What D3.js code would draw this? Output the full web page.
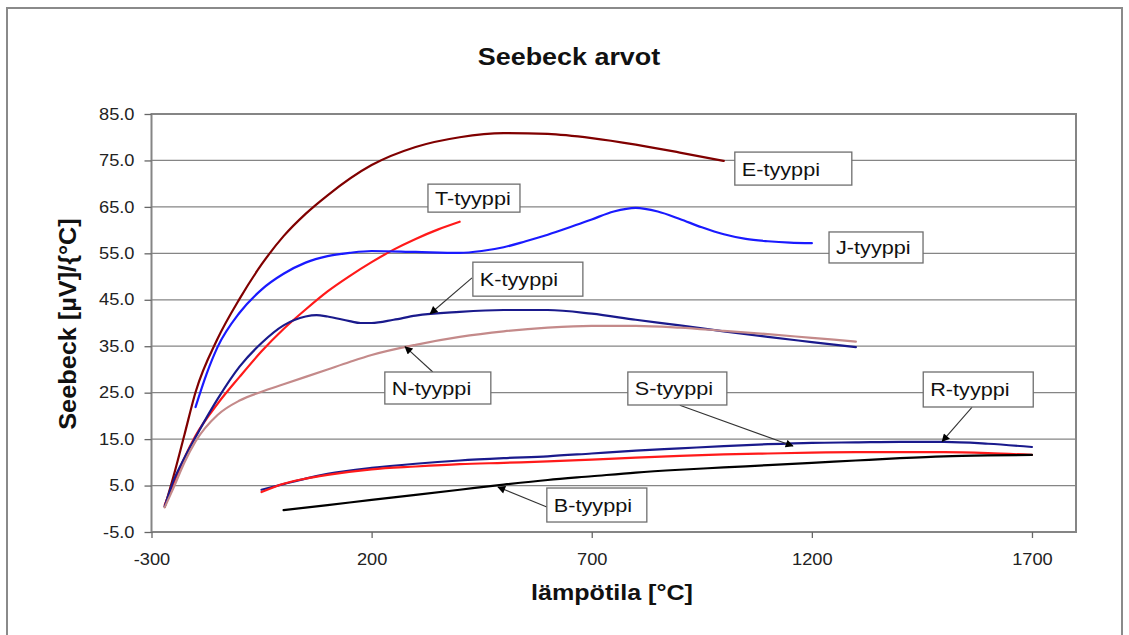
<!DOCTYPE html>
<html>
<head>
<meta charset="utf-8">
<script src="https://cdn.jsdelivr.net/npm/d3@7"></script>
<style>
  html, body { margin: 0; padding: 0; background: #fff; }
  svg { display: block; font-family: "Liberation Sans", Arial, sans-serif; }
</style>
</head>
<body>
<svg id="chart" width="1129" height="635"></svg>
<script>
// ---------- DATA ----------
const xTicks = [-300, 200, 700, 1200, 1700];
const yTicks = [-5, 5, 15, 25, 35, 45, 55, 65, 75, 85];

// [temperature °C, Seebeck µV/°C]
const seriesE = [[-270,0.4],[-250,7],[-225,16],[-200,25.1],[-150,36.6],[-100,45.2],[-50,52.6],[0,58.7],[50,63.5],[100,67.5],[200,74.0],[300,77.9],[400,80.0],[500,80.9],[600,80.7],[700,79.8],[800,78.4],[900,76.7],[1000,74.9]];
const seriesT = [[-270,0.8],[-250,5.5],[-225,11],[-200,15.7],[-150,22.6],[-100,28.4],[-50,33.9],[0,38.7],[50,42.9],[100,46.8],[150,50.1],[200,53.1],[250,55.8],[300,58.1],[350,60.1],[400,61.8]];
const seriesJ = [[-200,21.9],[-175,29],[-150,34.8],[-100,42.2],[-50,47.2],[0,50.6],[50,53.0],[100,54.4],[150,55.1],[200,55.5],[300,55.3],[400,55.1],[450,55.5],[500,56.3],[550,57.6],[600,59.0],[650,60.6],[700,62.3],[750,64.0],[800,64.8],[850,64.0],[900,62.4],[950,60.6],[1000,59.1],[1050,58.1],[1100,57.6],[1150,57.3],[1200,57.2]];
const seriesK = [[-270,0.5],[-250,6],[-225,11],[-200,15.4],[-150,23.6],[-100,30.6],[-50,35.7],[0,39.5],[50,41.4],[75,41.7],[100,41.4],[150,40.4],[175,40.0],[200,40.0],[250,40.7],[300,41.6],[400,42.4],[500,42.8],[600,42.8],[700,42.0],[800,40.7],[900,39.5],[1000,38.2],[1100,37.0],[1200,35.9],[1300,34.8]];
const seriesN = [[-270,0.3],[-250,4.5],[-225,10],[-200,14.5],[-150,20.2],[-100,23.3],[-50,25.2],[0,26.8],[50,28.4],[100,30.0],[150,31.6],[200,33.1],[300,35.3],[400,37.0],[500,38.2],[600,39.0],[700,39.4],[800,39.4],[900,39.0],[1000,38.3],[1100,37.6],[1200,36.8],[1300,36.0]];
const seriesR = [[-50,4.1],[0,5.3],[50,6.5],[100,7.5],[200,8.8],[300,9.7],[400,10.4],[500,10.9],[600,11.3],[700,11.9],[800,12.5],[900,13.0],[1000,13.5],[1100,13.9],[1200,14.2],[1300,14.3],[1400,14.4],[1500,14.4],[1600,14.0],[1700,13.3]];
const seriesS = [[-50,3.6],[0,5.4],[50,6.5],[100,7.3],[200,8.5],[300,9.1],[400,9.6],[500,9.9],[600,10.2],[700,10.6],[800,11.0],[900,11.4],[1000,11.7],[1100,11.9],[1200,12.1],[1300,12.2],[1400,12.2],[1500,12.2],[1600,12.0],[1700,11.6]];
const seriesB = [[0,-0.3],[100,0.8],[200,1.9],[300,3.0],[400,4.1],[500,5.2],[600,6.2],[700,7.0],[800,7.8],[900,8.4],[1000,8.9],[1100,9.4],[1200,9.9],[1300,10.4],[1400,10.9],[1500,11.3],[1600,11.5],[1700,11.6]];

const seriesNames = ["E-tyyppi","T-tyyppi","J-tyyppi","K-tyyppi","N-tyyppi","R-tyyppi","S-tyyppi","B-tyyppi"];
const seriesData = [seriesE, seriesT, seriesJ, seriesK, seriesN, seriesR, seriesS, seriesB];
const seriesColors = ["#800000","#ff1a1a","#1a1aff","#1a1a8c","#c48a8a","#1a1a8c","#ff1a1a","#000000"];

// ---------- LAYOUT ----------
const svg = d3.select("#chart");
const L = 151.5, R = 1076, T = 114, B = 532;
const x = d3.scaleLinear().domain([-300, 1800]).range([L, R]);
const y = d3.scaleLinear().domain([-5, 85]).range([B, T]);
const SX = 1.14; // horizontal stretch of the reference's lettering

// outer frame
svg.append("rect").attr("x", 7).attr("y", 8).attr("width", 1115).attr("height", 640)
  .attr("fill", "#fff").attr("stroke", "#8a8a8a").attr("stroke-width", 2);

// title
svg.append("text").attr("transform", `translate(569,65) scale(${SX + 0.03},1)`).attr("text-anchor", "middle")
  .attr("font-size", 23).attr("font-weight", "bold").attr("fill", "#111").text("Seebeck arvot");

// gridlines
svg.append("g").selectAll("line").data(yTicks.filter(d => d > -5 && d < 85)).join("line")
  .attr("x1", L).attr("x2", R).attr("y1", d => y(d)).attr("y2", d => y(d))
  .attr("stroke", "#858585").attr("stroke-width", 1.3);

// plot border
svg.append("rect").attr("x", L).attr("y", T).attr("width", R - L).attr("height", B - T)
  .attr("fill", "none").attr("stroke", "#858585").attr("stroke-width", 2);

// axes
const yAxis = svg.append("g").attr("transform", `translate(${L},0)`)
  .call(d3.axisLeft(y).tickValues(yTicks).tickFormat(d => d.toFixed(1)).tickSize(7).tickPadding(10));
const xAxis = svg.append("g").attr("transform", `translate(0,${B})`)
  .call(d3.axisBottom(x).tickValues(xTicks).tickFormat(d => String(d)).tickSize(6).tickPadding(16));
[yAxis, xAxis].forEach(g => {
  g.select(".domain").remove();
  g.selectAll(".tick line").attr("stroke", "#666").attr("stroke-width", 1.3);
  g.selectAll(".tick text").attr("font-size", 16).attr("fill", "#222")
    .attr("font-family", "Liberation Sans, Arial, sans-serif")
    .each(function () {
      const t = d3.select(this);
      const tx = +t.attr("x") || 0;
      t.attr("x", tx / SX).attr("transform", `scale(${SX},1)`);
    });
});

// axis titles
svg.append("text").attr("transform", `translate(612,600) scale(${SX},1)`).attr("text-anchor", "middle")
  .attr("font-size", 22).attr("font-weight", "bold").attr("fill", "#111").text("lämpötila [°C]");
svg.append("text").attr("transform", `translate(76,324) rotate(-90) scale(${SX - 0.04},1)`).attr("text-anchor", "middle")
  .attr("font-size", 23).attr("font-weight", "bold").attr("fill", "#111").text("Seebeck [µV]/{°C]");

// curves
const line = d3.line().x(d => x(d[0])).y(d => y(d[1])).curve(d3.curveMonotoneX);
svg.append("g").selectAll("path").data(seriesData).join("path")
  .attr("d", d => line(d)).attr("fill", "none")
  .attr("stroke", (d, i) => seriesColors[i]).attr("stroke-width", 2.2)
  .attr("stroke-linejoin", "round").attr("stroke-linecap", "round");

// label boxes: position of top-left corner in data units
const labelBoxes = [
  {name:"E-tyyppi", t:1025, v:76.8, w:117, h:33},
  {name:"T-tyyppi", t:328,  v:69.9, w:92,  h:28},
  {name:"J-tyyppi", t:1239, v:59.6, w:94,  h:31},
  {name:"K-tyyppi", t:430,  v:53.1, w:110, h:34},
  {name:"N-tyyppi", t:230,  v:29.45,w:106, h:32},
  {name:"S-tyyppi", t:782,  v:29.45,w:99,  h:33},
  {name:"R-tyyppi", t:1453, v:29.45,w:110, h:35},
  {name:"B-tyyppi", t:598,  v:4.47, w:100, h:34}
];
// arrows: from box to curve, data units
const arrows = [
  {from:[428,49.7], to:[333,42.0]},
  {from:[339,29.45], to:[276,34.9]},
  {from:[900,22.3], to:[1157,13.5]},
  {from:[1564,21.9], to:[1496,14.5]},
  {from:[598,0.4], to:[487,4.7]}
];

svg.append("defs").append("marker").attr("id", "ah").attr("viewBox", "0 0 10 10")
  .attr("refX", 9).attr("refY", 5).attr("markerWidth", 9).attr("markerHeight", 8)
  .attr("markerUnits", "userSpaceOnUse").attr("orient", "auto")
  .append("path").attr("d", "M0,0 L10,5 L0,10 z").attr("fill", "#000");

svg.append("g").selectAll("line").data(arrows).join("line")
  .attr("x1", d => x(d.from[0])).attr("y1", d => y(d.from[1]))
  .attr("x2", d => x(d.to[0])).attr("y2", d => y(d.to[1]))
  .attr("stroke", "#333").attr("stroke-width", 1.1).attr("marker-end", "url(#ah)");

const lb = svg.append("g").selectAll("g").data(labelBoxes).join("g")
  .attr("transform", d => `translate(${x(d.t)},${y(d.v)})`);
lb.append("rect").attr("width", d => d.w).attr("height", d => d.h)
  .attr("fill", "#fff").attr("stroke", "#6e6e6e").attr("stroke-width", 1.3);
lb.append("text").attr("transform", d => `translate(7,${d.h / 2 + 7}) scale(${SX},1)`)
  .attr("font-size", 19).attr("fill", "#111").text(d => d.name);
</script>
</body>
</html>
